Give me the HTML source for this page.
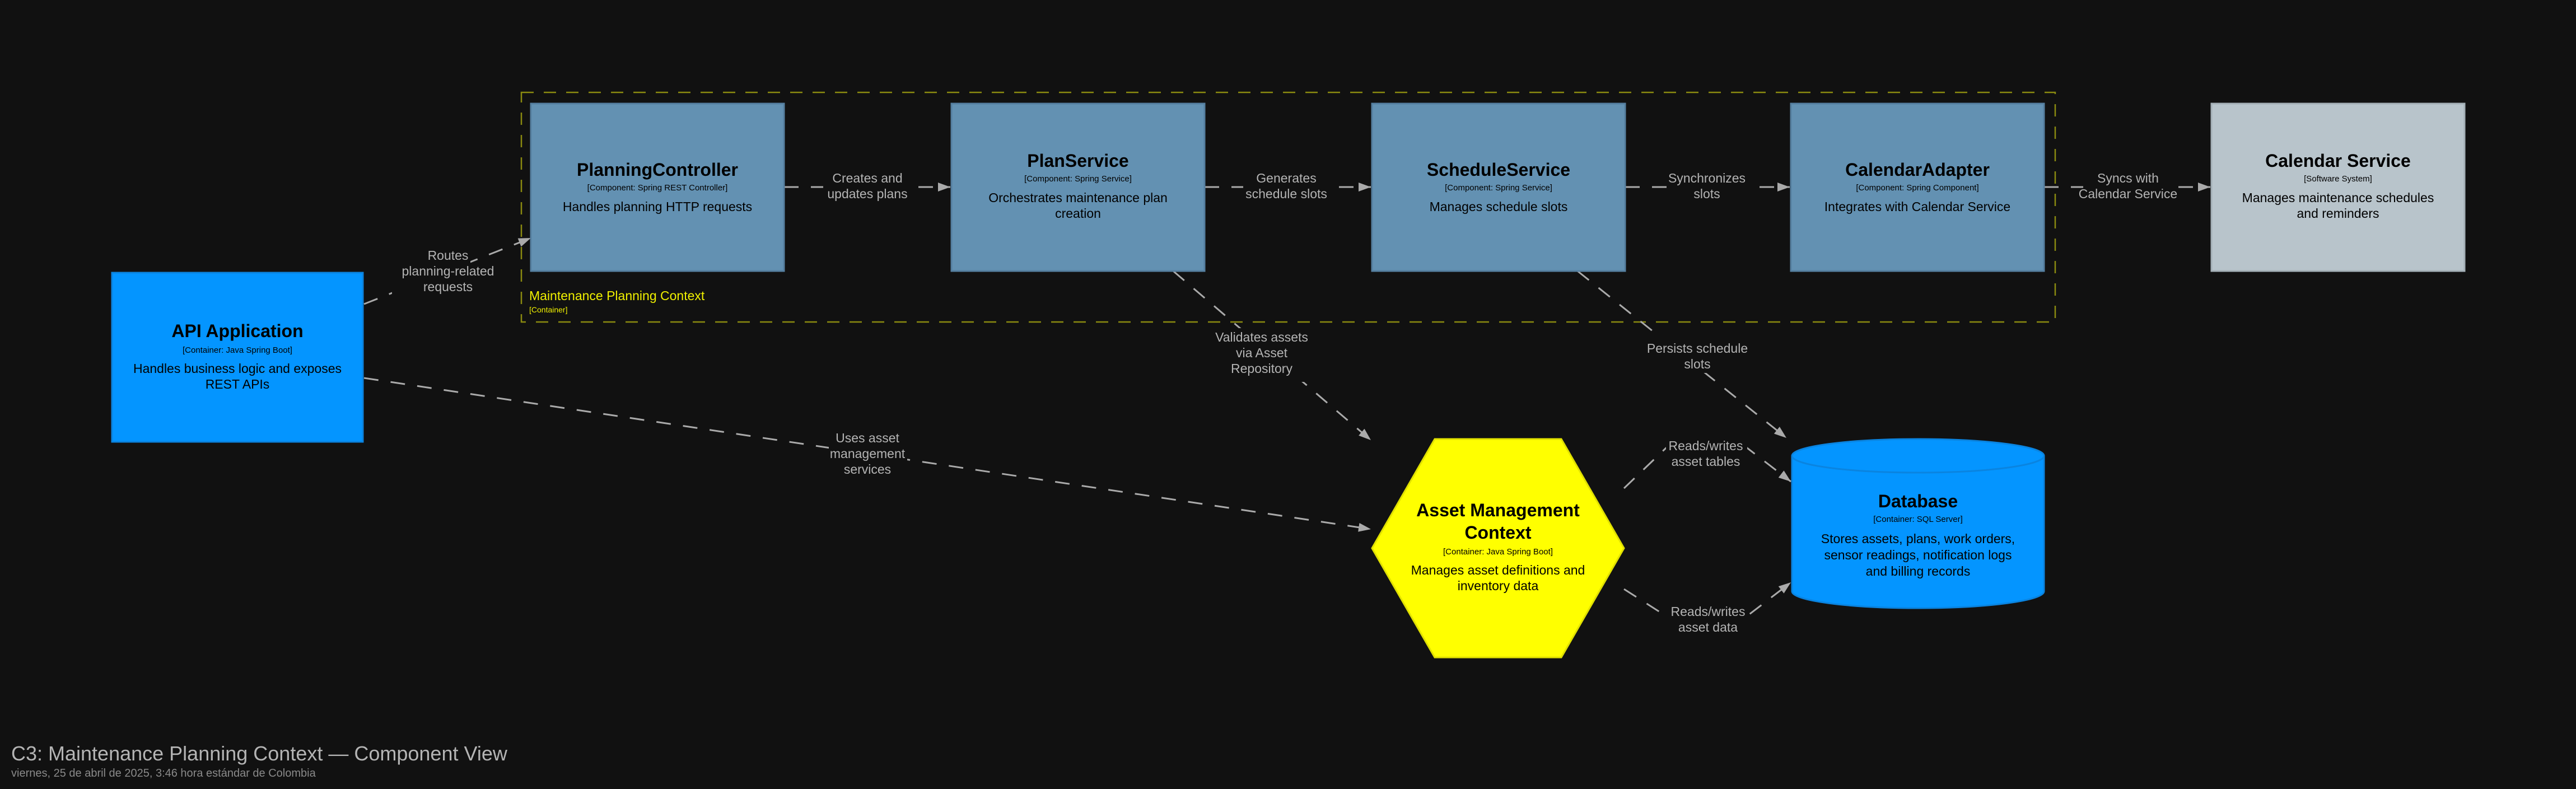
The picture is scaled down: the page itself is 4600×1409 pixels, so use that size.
<!DOCTYPE html>
<html><head><meta charset="utf-8"><style>
html,body{margin:0;padding:0;background:#111111;}
svg{display:block;font-family:"Liberation Sans",sans-serif;}
.t{font-weight:bold;font-size:32px;fill:#000;text-anchor:middle}
.k{font-size:15px;fill:#000;text-anchor:middle}
.d{font-size:23px;fill:#000;text-anchor:middle}
.l{font-size:23px;fill:#b4b4b4;text-anchor:middle}
.e{stroke:#aaaaaa;stroke-width:3;fill:none;stroke-dasharray:26 22;marker-end:url(#ar2)}
</style></head><body>
<svg width="4600" height="1409" viewBox="0 0 4600 1409" xmlns="http://www.w3.org/2000/svg">
<defs>
<marker id="ar2" markerWidth="24" markerHeight="24" refX="22" refY="12" orient="auto" markerUnits="userSpaceOnUse"><path d="M0,4 L22,12 L0,20 z" fill="#aaaaaa"/></marker></defs>
<rect width="4600" height="1409" fill="#111111"/>
<rect x="931" y="165" width="2739" height="410" fill="none" stroke="#8a8a10" stroke-width="2.5" stroke-dasharray="22 18"/>
<text x="945" y="536" font-size="23" fill="#f0f000">Maintenance Planning Context</text>
<text x="945" y="558" font-size="14" fill="#f0f000">[Container]</text>
<path d="M650,543 L948,425" class="e"/>
<path d="M1400,334 L1697,334" class="e"/>
<path d="M2151,334 L2448,334" class="e"/>
<path d="M2902,334 L3196,334" class="e"/>
<path d="M3650,334 L3947,334" class="e"/>
<path d="M2095,484 L2448,786" class="e"/>
<path d="M2817,484 L3190,782" class="e"/>
<path d="M650,675 L2448,945" class="e"/>
<path d="M2900,872 L2975,800 L3120,800 L3198,860" class="e"/>
<path d="M2900,1052 L2975,1100 L3120,1100 L3198,1040" class="e"/>
<g fill="#111111">
<rect x="700" y="440" width="140" height="92"/>
<rect x="1470" y="300" width="160" height="66"/>
<rect x="2220" y="300" width="155" height="66"/>
<rect x="2980" y="300" width="140" height="66"/>
<rect x="3720" y="300" width="165" height="66"/>
<rect x="2180" y="586" width="150" height="96"/>
<rect x="2960" y="600" width="150" height="66"/>
<rect x="1480" y="765" width="140" height="96"/>
<rect x="2975" y="775" width="145" height="66"/>
<rect x="2975" y="1075" width="145" height="66"/>
</g>
<text class="l" x="800" y="464">Routes</text><text class="l" x="800" y="492">planning-related</text><text class="l" x="800" y="520">requests</text>
<text class="l" x="1549" y="326">Creates and</text><text class="l" x="1549" y="354">updates plans</text>
<text class="l" x="2297" y="326">Generates</text><text class="l" x="2297" y="354">schedule slots</text>
<text class="l" x="3048" y="326">Synchronizes</text><text class="l" x="3048" y="354">slots</text>
<text class="l" x="3800" y="326">Syncs with</text><text class="l" x="3800" y="354">Calendar Service</text>
<text class="l" x="2253" y="610">Validates assets</text><text class="l" x="2253" y="638">via Asset</text><text class="l" x="2253" y="666">Repository</text>
<text class="l" x="3031" y="630">Persists schedule</text><text class="l" x="3031" y="658">slots</text>
<text class="l" x="1549" y="790">Uses asset</text><text class="l" x="1549" y="818">management</text><text class="l" x="1549" y="846">services</text>
<text class="l" x="3046" y="804">Reads/writes</text><text class="l" x="3046" y="832">asset tables</text>
<text class="l" x="3050" y="1100">Reads/writes</text><text class="l" x="3050" y="1128">asset data</text>
<g fill="#6391b2" stroke="#557fa0" stroke-width="3">
<rect x="948" y="185" width="452" height="299"/>
<rect x="1699" y="185" width="452" height="299"/>
<rect x="2450" y="185" width="452" height="299"/>
<rect x="3198" y="185" width="452" height="299"/>
</g>
<rect x="3949" y="185" width="452" height="299" fill="#b8c4cb" stroke="#a4b0b7" stroke-width="3"/>
<rect x="200" y="487" width="448" height="302" fill="#0495ff" stroke="#0a84e0" stroke-width="3"/>
<polygon points="2562,784 2788,784 2900,979 2788,1174 2562,1174 2450,979" fill="#ffff00" stroke="#e0e000" stroke-width="3"/>
<path d="M3200,814 L3200,1056 A225,30 0 0 0 3650,1056 L3650,814 A225,30 0 0 0 3200,814 Z" fill="#0495ff" stroke="#0a84e0" stroke-width="3"/>
<path d="M3200,814 A225,30 0 0 0 3650,814" fill="none" stroke="#0a84e0" stroke-width="3"/>
<text class="t" x="1174" y="314">PlanningController</text><text class="k" x="1174" y="340">[Component: Spring REST Controller]</text><text class="d" x="1174" y="377">Handles planning HTTP requests</text>
<text class="t" x="1925" y="298">PlanService</text><text class="k" x="1925" y="324">[Component: Spring Service]</text><text class="d" x="1925" y="361">Orchestrates maintenance plan</text><text class="d" x="1925" y="389">creation</text>
<text class="t" x="2676" y="314">ScheduleService</text><text class="k" x="2676" y="340">[Component: Spring Service]</text><text class="d" x="2676" y="377">Manages schedule slots</text>
<text class="t" x="3424" y="314">CalendarAdapter</text><text class="k" x="3424" y="340">[Component: Spring Component]</text><text class="d" x="3424" y="377">Integrates with Calendar Service</text>
<text class="t" x="4175" y="298">Calendar Service</text><text class="k" x="4175" y="324">[Software System]</text><text class="d" x="4175" y="361">Manages maintenance schedules</text><text class="d" x="4175" y="389">and reminders</text>
<text class="t" x="424" y="602">API Application</text><text class="k" x="424" y="630">[Container: Java Spring Boot]</text><text class="d" x="424" y="666">Handles business logic and exposes</text><text class="d" x="424" y="694">REST APIs</text>
<text class="t" x="2675" y="922">Asset Management</text><text class="t" x="2675" y="962">Context</text><text class="k" x="2675" y="990">[Container: Java Spring Boot]</text><text class="d" x="2675" y="1026">Manages asset definitions and</text><text class="d" x="2675" y="1054">inventory data</text>
<text class="t" x="3425" y="906">Database</text><text class="k" x="3425" y="932">[Container: SQL Server]</text><text class="d" x="3425" y="970">Stores assets, plans, work orders,</text><text class="d" x="3425" y="999">sensor readings, notification logs</text><text class="d" x="3425" y="1028">and billing records</text>
<text x="20" y="1358" font-size="36" fill="#b4b4b4">C3: Maintenance Planning Context — Component View</text>
<text x="20" y="1387" font-size="20" fill="#8a8a8a">viernes, 25 de abril de 2025, 3:46 hora estándar de Colombia</text>
</svg>
</body></html>
